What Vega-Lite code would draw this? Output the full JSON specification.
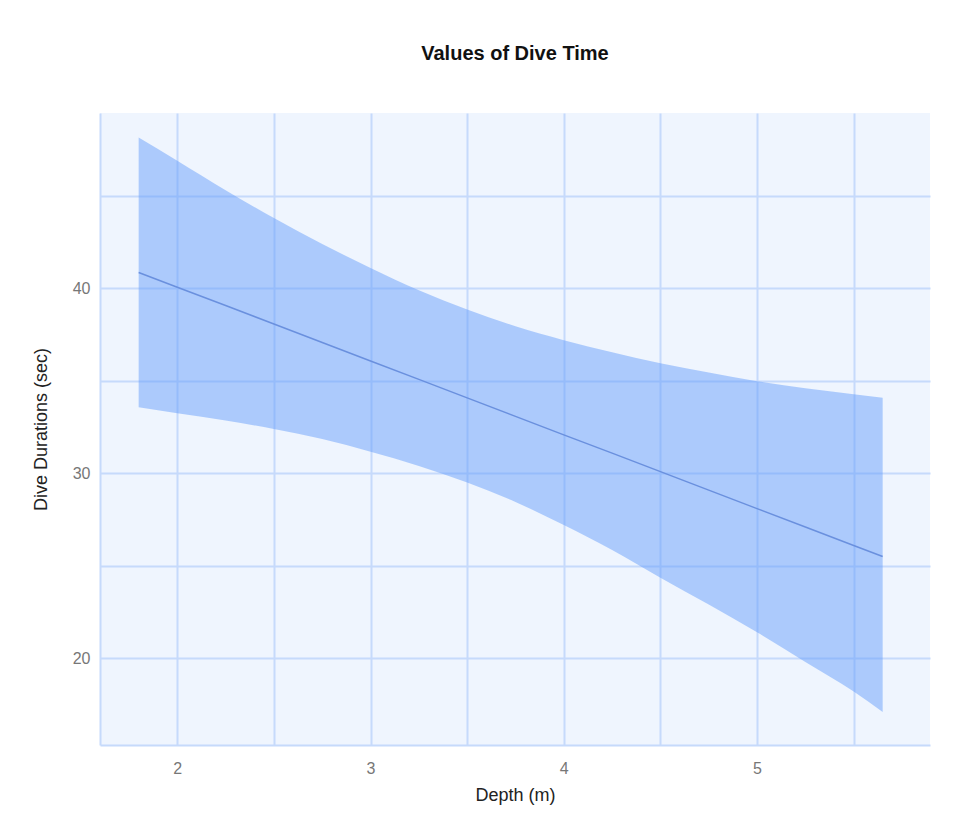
{
  "$schema": "https://vega.github.io/schema/vega-lite/v6.json",
  "width": 830,
  "height": 632,
  "autosize": "none",
  "padding": {"left": 100, "top": 113, "right": 44, "bottom": 95},
  "background": "white",
  "title": {
    "text": "Values of Dive Time",
    "font": "Liberation Sans",
    "fontSize": 20,
    "fontWeight": "bold",
    "color": "#111111",
    "anchor": "middle",
    "offset": 49
  },
  "data": {
    "values": [
      {"depth": 1.8, "fit": 40.86, "lo": 33.57, "hi": 48.15},
      {"depth": 2.0, "fit": 40.06, "lo": 33.24, "hi": 46.9},
      {"depth": 2.25, "fit": 39.07, "lo": 32.85, "hi": 45.3},
      {"depth": 2.5, "fit": 38.07, "lo": 32.4, "hi": 43.8},
      {"depth": 2.75, "fit": 37.07, "lo": 31.85, "hi": 42.4},
      {"depth": 3.0, "fit": 36.07, "lo": 31.17, "hi": 41.1},
      {"depth": 3.25, "fit": 35.08, "lo": 30.4, "hi": 39.9},
      {"depth": 3.5, "fit": 34.08, "lo": 29.5, "hi": 38.85},
      {"depth": 3.75, "fit": 33.08, "lo": 28.45, "hi": 37.95},
      {"depth": 4.0, "fit": 32.08, "lo": 27.2, "hi": 37.2},
      {"depth": 4.25, "fit": 31.09, "lo": 25.85, "hi": 36.55},
      {"depth": 4.5, "fit": 30.09, "lo": 24.35, "hi": 35.95},
      {"depth": 4.75, "fit": 29.09, "lo": 22.9, "hi": 35.45},
      {"depth": 5.0, "fit": 28.09, "lo": 21.4, "hi": 34.98},
      {"depth": 5.25, "fit": 27.1, "lo": 19.8, "hi": 34.6},
      {"depth": 5.5, "fit": 26.1, "lo": 18.2, "hi": 34.28},
      {"depth": 5.65, "fit": 25.5, "lo": 17.1, "hi": 34.08}
    ]
  },
  "encoding": {
    "x": {
      "field": "depth",
      "type": "quantitative",
      "scale": {"domain": [1.6, 5.895], "nice": false, "zero": false},
      "axis": {
        "title": "Depth (m)",
        "values": [2, 2.5, 3, 3.5, 4, 4.5, 5, 5.5],
        "labelExpr": "datum.value % 1 === 0 ? format(datum.value, 'd') : ''",
        "labelPadding": 15,
        "titlePadding": 10
      }
    }
  },
  "layer": [
    {
      "mark": {"type": "area", "color": "#5a97fa", "opacity": 0.45, "interpolate": "monotone"},
      "encoding": {
        "y": {
          "field": "lo",
          "type": "quantitative",
          "scale": {"domain": [15.31, 49.48], "nice": false, "zero": false},
          "axis": {
            "title": "Dive Durations (sec)",
            "values": [20, 25, 30, 35, 40, 45],
            "labelExpr": "datum.value % 10 === 0 ? format(datum.value, 'd') : ''",
            "labelPadding": 10,
            "titlePadding": 22
          }
        },
        "y2": {"field": "hi"}
      }
    },
    {
      "mark": {"type": "line", "color": "#6a90de", "strokeWidth": 1.5},
      "encoding": {
        "y": {"field": "fit", "type": "quantitative"}
      }
    }
  ],
  "config": {
    "font": "Liberation Sans",
    "view": {"fill": "#eff5fe", "stroke": null},
    "axis": {
      "grid": true,
      "gridColor": "#c6dafb",
      "gridWidth": 2,
      "gridOpacity": 1,
      "domain": true,
      "domainColor": "#c6dafb",
      "domainWidth": 2,
      "ticks": false,
      "labelFont": "Liberation Sans",
      "labelFontSize": 16,
      "labelColor": "#777777",
      "titleFont": "Liberation Sans",
      "titleFontSize": 18,
      "titleFontWeight": "normal",
      "titleColor": "#222222"
    }
  }
}
